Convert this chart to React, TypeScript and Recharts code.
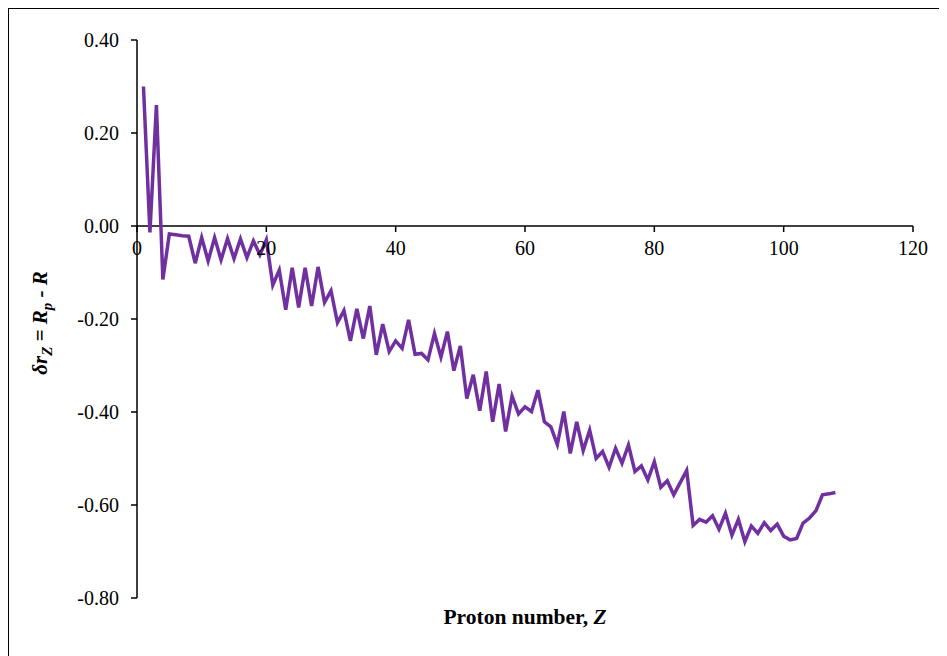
import { LineChart, Line, XAxis, YAxis, ReferenceLine, ReferenceDot } from 'recharts';

// Z values and the radius difference
const protonNumbers = [
  1, 2, 3, 4, 5, 6, 7, 8, 9, 10, 11, 12, 13, 14, 15, 16, 17, 18, 19, 20,
  21, 22, 23, 24, 25, 26, 27, 28, 29, 30, 31, 32, 33, 34, 35, 36, 37, 38, 39, 40,
  41, 42, 43, 44, 45, 46, 47, 48, 49, 50, 51, 52, 53, 54, 55, 56, 57, 58, 59, 60,
  61, 62, 63, 64, 65, 66, 67, 68, 69, 70, 71, 72, 73, 74, 75, 76, 77, 78, 79, 80,
  81, 82, 83, 84, 85, 86, 87, 88, 89, 90, 91, 92, 93, 94, 95, 96, 97, 98, 99, 100,
  101, 102, 103, 104, 105, 106, 107, 108,
];

const deltaR = [
  0.30, -0.014, 0.26, -0.115, -0.017, -0.019, -0.021, -0.022, -0.08, -0.025,
  -0.075, -0.025, -0.073, -0.027, -0.07, -0.028, -0.068, -0.032, -0.062, -0.03,
  -0.127, -0.095, -0.18, -0.09, -0.175, -0.09, -0.172, -0.088, -0.164, -0.139,
  -0.208, -0.182, -0.247, -0.178, -0.242, -0.172, -0.277, -0.211, -0.27, -0.247,
  -0.263, -0.202, -0.276, -0.274, -0.288, -0.231, -0.282, -0.227, -0.311, -0.258,
  -0.371, -0.32, -0.397, -0.313, -0.421, -0.34, -0.442, -0.366, -0.404, -0.389,
  -0.399, -0.353, -0.421, -0.432, -0.47, -0.399, -0.489, -0.421, -0.483, -0.439,
  -0.5, -0.485, -0.519, -0.478, -0.51, -0.471, -0.528, -0.516, -0.546, -0.507,
  -0.562, -0.548, -0.578, -0.552, -0.526, -0.644, -0.631, -0.637, -0.623, -0.652,
  -0.618, -0.665, -0.631, -0.679, -0.645, -0.661, -0.638, -0.655, -0.641, -0.667,
  -0.675, -0.672, -0.639, -0.628, -0.612, -0.578, -0.576, -0.573,
];

const xTicks = [0, 20, 40, 60, 80, 100, 120];
const yTicks = [-0.8, -0.6, -0.4, -0.2, 0, 0.2, 0.4];

const data = protonNumbers.map((z, i) => ({ z, dr: deltaR[i] }));

const FONT = "'Liberation Serif', 'DejaVu Serif', serif";

// x axis sits on y = 0, so ticks are drawn as reference dots on that line
const XTickAtZero = ({ cx, cy, value }: any) => (
  <g>
    <line x1={cx} y1={cy} x2={cx} y2={cy + 6} stroke="#000" strokeWidth={1.5} />
    <text x={cx} y={cy + 29} textAnchor="middle" style={{ fontFamily: FONT }} fontSize={20} fill="#000">
      {value}
    </text>
  </g>
);

const YLabel = ({ viewBox }: any) => {
  const cx = viewBox.x - 30;
  const cy = viewBox.y + viewBox.height / 2 + 4;
  return (
    <text
      x={cx}
      y={cy}
      transform={`rotate(-90 ${cx} ${cy})`}
      textAnchor="middle"
      style={{ fontFamily: FONT }}
      fontSize={21}
      fontWeight="bold"
      fontStyle="italic"
      fill="#000"
    >
      δr
      <tspan fontSize={15} dy={5}>Z</tspan>
      <tspan dy={-5}> = R</tspan>
      <tspan fontSize={15} dy={5}>p</tspan>
      <tspan dy={-5}> - R</tspan>
    </text>
  );
};

const XLabel = ({ viewBox }: any) => (
  <text
    x={viewBox.x + viewBox.width / 2}
    y={viewBox.y + 26}
    textAnchor="middle"
    style={{ fontFamily: FONT }}
    fontSize={21.5}
    fontWeight="bold"
    fill="#000"
  >
    Proton number, <tspan fontStyle="italic">Z</tspan>
  </text>
);

export default function App() {
  return (
    <div style={{ width: 931, height: 660, border: '1px solid #000', background: '#fff', fontFamily: FONT }}>
      <LineChart
        width={931}
        height={660}
        data={data}
        margin={{ top: 31, right: 27, left: 68, bottom: 41 }}
        style={{ fontFamily: FONT }}
      >
        <XAxis
          dataKey="z"
          type="number"
          domain={[0, 120]}
          ticks={xTicks}
          tick={false}
          axisLine={false}
          tickLine={false}
          height={30}
          label={<XLabel />}
        />
        <YAxis
          type="number"
          domain={[-0.8, 0.4]}
          ticks={yTicks}
          width={60}
          interval={0}
          tickFormatter={(v: number) => v.toFixed(2)}
          tick={{ style: { fontFamily: FONT }, fontSize: 20, fill: '#000' }}
          tickSize={6}
          tickMargin={12}
          axisLine={{ stroke: '#000', strokeWidth: 1.5 }}
          tickLine={{ stroke: '#000', strokeWidth: 1.5 }}
          label={<YLabel />}
        />
        <ReferenceLine y={0} stroke="#000" strokeWidth={1.5} />
        {xTicks.map((t) => (
          <ReferenceDot
            key={t}
            x={t}
            y={0}
            r={0}
            shape={(p: any) => <XTickAtZero {...p} value={t} />}
          />
        ))}
        <Line
          type="linear"
          dataKey="dr"
          stroke="#7030A0"
          strokeWidth={3.5}
          dot={false}
          isAnimationActive={false}
        />
      </LineChart>
    </div>
  );
}
